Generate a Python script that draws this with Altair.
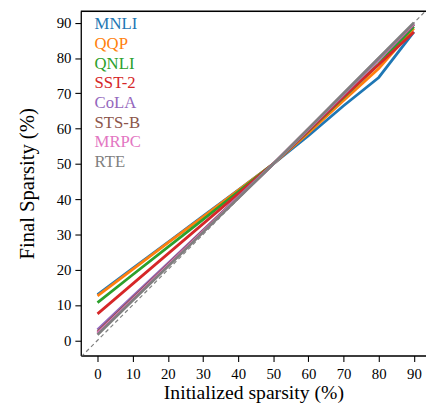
import altair as alt
import pandas as pd

x_vals = [0, 10, 20, 30, 40, 50, 60, 70, 80, 90]
names = ["MNLI", "QQP", "QNLI", "SST-2", "CoLA", "STS-B", "MRPC", "RTE"]
colors = ["#1f77b4", "#ff7f0e", "#2ca02c", "#d62728", "#9467bd", "#8c564b", "#e377c2", "#7f7f7f"]

mnli = [13.0, 20.4, 27.8, 35.2, 42.6, 50.0, 58.0, 66.5, 74.5, 87.4]
qqp = [12.6, 20.1, 27.6, 35.0, 42.5, 50.0, 58.8, 68.0, 77.0, 88.4]
qnli = [10.7, 18.6, 26.4, 34.2, 42.1, 50.0, 59.3, 68.8, 78.3, 88.9]
sst2 = [7.5, 16.0, 24.5, 33.0, 41.5, 50.0, 59.5, 69.0, 78.2, 87.4]
cola = [3.0, 12.4, 21.8, 31.2, 40.6, 50.0, 59.8, 69.7, 79.6, 89.5]
stsb = [2.4, 11.9, 21.4, 31.0, 40.5, 50.0, 59.9, 69.8, 79.8, 89.6]
mrpc = [2.0, 11.6, 21.2, 30.8, 40.4, 50.0, 59.9, 69.9, 79.9, 89.8]
rte = [1.6, 11.3, 20.9, 30.6, 40.3, 50.0, 60.0, 70.0, 80.0, 90.0]

series = [mnli, qqp, qnli, sst2, cola, stsb, mrpc, rte]
diag = [-6, 96]

rows = []
for i, (n, s) in enumerate(zip(names, series)):
    for xv, yv in zip(x_vals, s):
        rows.append({"task": n, "order": i, "x": xv, "y": yv})
df = pd.DataFrame(rows)
ddf = pd.DataFrame({"x": diag, "y": diag})

FONT = "Liberation Serif"
W, H = 351, 350
xs = alt.Scale(domain=[-4.76, 93.44], nice=False, zero=False)
ys = alt.Scale(domain=[-4.29, 93.26], nice=False, zero=False)
ticks = x_vals

x_axis = alt.Axis(title="Initialized sparsity (%)", values=ticks, titlePadding=2,
                  labelPadding=5, titleFontSize=20)
y_axis = alt.Axis(title="Final Sparsity (%)", values=ticks, titlePadding=19)
X = alt.X("x:Q", scale=xs, axis=x_axis)
Y = alt.Y("y:Q", scale=ys, axis=y_axis)

diag_layer = alt.Chart(ddf).mark_line(
    color="#808080", strokeWidth=1.2, strokeDash=[4, 3], clip=True
).encode(x=X, y=Y)

lines = alt.Chart(df).mark_line(strokeWidth=2.8, clip=True).encode(
    x=X,
    y=Y,
    color=alt.Color("task:N", sort=names,
                    scale=alt.Scale(domain=names, range=colors),
                    legend=alt.Legend(
                        title=None, orient="none", legendX=-3, legendY=5,
                        symbolSize=0, symbolStrokeWidth=0, symbolOpacity=0,
                        labelOffset=0, labelFont=FONT, labelFontSize=17,
                        rowPadding=2, padding=0,
                        labelColor=alt.ExprRef("scale('color', datum.value)"))),
    detail="task:N",
    order=alt.Order("order:Q"),
)

top_spine = alt.Chart(pd.DataFrame({"a": [0]})).mark_rule(
    color="black", strokeWidth=1.3
).encode(y=alt.value(0))

chart = alt.layer(diag_layer, lines, top_spine).properties(
    width=W, height=H,
    padding={"left": 74, "top": 0, "right": 0, "bottom": 46},
    autosize=alt.AutoSizeParams(type="none"),
).configure_view(stroke=None).configure(background="white").configure_axis(
    grid=False, tickSize=6, labelPadding=4, labelOverlap=False,
    labelFontSize=15, titleFontSize=21, labelFont=FONT, titleFont=FONT,
    titleFontWeight="normal", domainColor="black", domainWidth=1.3,
    tickColor="black", tickWidth=1.1, labelColor="black", titleColor="black",
)

chart.save("out.html", embed_options={"renderer": "svg", "actions": False})
